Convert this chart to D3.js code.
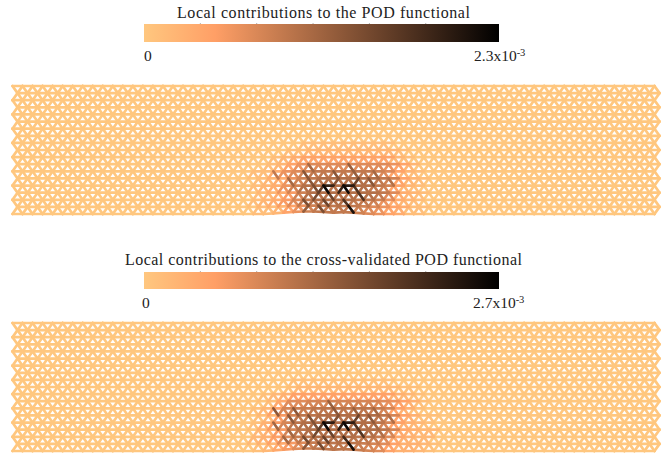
<!DOCTYPE html>
<html>
<head>
<meta charset="utf-8">
<script src="https://cdn.jsdelivr.net/npm/d3@7"></script>
<style>
body { margin: 0; background: #fff; }
text { font-family: "Liberation Serif", serif; fill: #222; }
</style>
</head>
<body>
<div id="chart"></div>
<script>
// copper colormap, reversed
let colorStops = [0, 0.2, 1];
let colorValues = ["#ffc77f", "#ff9f66", "#000000"];
let barTicks = [1, 2, 3, 4, 5];

let meshCols = 64;
let meshRows = 18;

let titles = ["Local contributions to the POD functional", "Local contributions to the cross-validated POD functional"];
let maxLabels = ["2.3", "2.7"];
let maxValues = [23, 27]; // units of 1e-4

// floor of the contribution around the defect, rows 8-17, columns 24-41
let baseCol0 = 24;
let baseRow0 = 8;
let podBase = [
  [0,0,0,0,0,1,1,1,1,1,1,1,1,1,0,0,0,0],
  [0,0,0,1,1,2,2,2,2,2,2,2,2,2,1,0,0,0],
  [0,0,1,2,3,4,4,4,4,4,4,4,4,4,2,1,0,0],
  [0,1,2,4,6,7,7,7,7,7,7,7,7,6,4,2,0,0],
  [1,1,3,6,7,8,9,9,9,9,9,9,8,7,4,2,1,0],
  [1,2,3,6,8,9,10,10,10,10,10,10,9,8,4,2,1,0],
  [1,2,3,6,8,10,10,10,10,10,10,10,9,8,4,2,1,0],
  [1,2,3,5,8,10,10,10,10,10,10,10,9,7,3,2,1,0],
  [1,2,3,5,7,9,10,10,10,10,9,9,8,6,3,2,1,0],
  [1,1,2,4,6,8,9,9,9,9,8,7,6,4,3,1,1,0]
];
let cvBase = [
  [0,0,0,0,1,1,1,1,1,1,1,1,1,1,0,0,0,0],
  [0,0,0,1,2,2,2,2,2,2,2,2,2,2,1,1,0,0],
  [0,1,2,3,5,5,5,5,5,5,5,5,5,5,3,2,1,0],
  [0,1,4,8,8,9,9,9,9,9,9,9,8,7,5,3,1,0],
  [1,2,5,9,10,10,11,11,11,11,11,11,10,9,5,3,1,0],
  [1,2,6,9,11,11,12,12,12,12,12,12,11,9,5,3,1,1],
  [1,3,6,9,11,12,12,12,12,12,12,12,11,9,5,3,2,1],
  [2,3,6,9,11,12,12,12,12,12,12,12,11,9,4,3,2,2],
  [2,3,5,8,10,11,12,12,12,12,11,11,10,8,4,3,2,2],
  [1,2,4,6,8,10,11,11,11,11,10,9,8,5,3,3,2,1]
];

// edges well above the floor: band, column, kind (b = "\", f = "/", h = flat), value
let podEdges = [
  [12,26,"b",9],[13,27,"b",11],[12,29,"b",13],[13,29,"b",13],[14,30,"b",14],[11,29,"b",11],
  [14,31,"h",19],[14,31,"b",22],[14,31,"f",16],[15,31,"b",15],
  [14,33,"h",20],[14,33,"b",22],[14,33,"f",19],[15,34,"b",17],
  [13,32,"f",13],[13,34,"f",15],[14,34,"b",17],[15,30,"f",14],
  [16,29,"b",14],[16,31,"b",15],[16,33,"b",17],[17,33,"b",21],[17,30,"b",14],[17,29,"f",12],
  [11,33,"b",12],[12,32,"b",13],[12,34,"b",12],[13,35,"b",13],[12,36,"b",11],[13,37,"b",10]
];
let cvEdges = [
  [12,26,"b",15],[13,27,"b",15],[12,28,"b",15],[13,29,"b",16],[14,30,"b",16],[14,26,"b",13],[15,27,"b",13],[16,27,"b",13],
  [14,31,"h",23],[14,31,"b",26],[14,31,"f",19],[15,31,"b",18],
  [14,33,"h",23],[14,33,"b",26],[14,33,"f",23],[15,34,"b",20],
  [13,32,"f",16],[13,34,"f",18],[14,34,"b",20],[15,30,"f",17],
  [16,29,"b",17],[16,31,"b",18],[16,33,"b",21],[17,33,"b",25],[17,30,"b",17],[17,29,"f",15],
  [11,31,"b",14],[12,32,"b",15],[12,34,"b",14],[13,35,"b",15],[12,36,"b",13],[13,37,"b",12],[14,36,"b",13],[15,36,"b",12]
];

// upward shift of the bottom boundary, in row units: column, shift
let bottomDent = [[26,0.1],[27,0.2],[28,0.3],[29,0.35],[30,0.35],[31,0.3],[32,0.2],[33,0.25],[34,0.2],[35,0.1]];

let panels = [
  {title: 0, titleX: 177, titleW: 293, titleY: 18, barTop: 24, barBottom: 42, labelY: 61, zeroX: 144, maxX: 474, top: 85, bottom: 215, base: podBase, edges: podEdges},
  {title: 1, titleX: 125, titleW: 397, titleY: 265, barTop: 272, barBottom: 289, labelY: 308, zeroX: 142, maxX: 473, top: 322, bottom: 452, base: cvBase, edges: cvEdges}
];

let svg = d3.select("#chart").append("svg")
  .attr("width", 665)
  .attr("height", 465);

let defs = svg.append("defs");
let grad = defs.append("linearGradient").attr("id", "copper");
grad.selectAll("stop").data(colorStops).enter().append("stop")
  .attr("offset", function(d){ return d; })
  .attr("stop-color", function(d, i){ return colorValues[i]; });

let barScale = d3.scaleLinear().domain([0, 6.3]).range([144, 499]);

panels.forEach(function(p, idx){
  let g = svg.append("g");
  let color = d3.scaleLinear()
    .domain(colorStops.map(function(s){ return s * maxValues[idx]; }))
    .range(colorValues)
    .clamp(true);

  g.append("text")
    .attr("x", p.titleX).attr("y", p.titleY)
    .attr("textLength", p.titleW).attr("lengthAdjust", "spacing")
    .style("font-size", "16px")
    .text(titles[p.title]);

  g.append("rect")
    .attr("x", barScale(0)).attr("y", p.barTop)
    .attr("width", barScale(6.3) - barScale(0)).attr("height", p.barBottom - p.barTop)
    .attr("fill", "url(#copper)");

  g.selectAll(".tick").data(barTicks).enter().append("line")
    .attr("x1", barScale).attr("x2", barScale)
    .attr("y1", p.barTop - 1).attr("y2", p.barTop)
    .attr("stroke", "#777").attr("stroke-width", 0.6);

  g.append("text").attr("x", p.zeroX).attr("y", p.labelY).style("font-size", "15.5px").text("0");
  let maxText = g.append("text").attr("x", p.maxX).attr("y", p.labelY).style("font-size", "15.5px");
  maxText.append("tspan").text(maxLabels[idx] + "x10");
  maxText.append("tspan").attr("dy", -5).style("font-size", "10.5px").text("-3");

  let x = d3.scaleLinear().domain([0, meshCols]).range([12.5, 654.5]);
  let y = d3.scaleLinear().domain([0, meshRows]).range([p.top + 1, p.bottom - 1]);

  function dent(r, c){
    if(r < meshRows - 1) return 0;
    let hit = bottomDent.find(function(d){ return d[0] === c; });
    return hit ? hit[1] * (r === meshRows ? 1 : 0.5) : 0;
  }
  function node(r, c){
    return [x(c + (r % 2 ? 0.5 : 0)), y(r - dent(r, c))];
  }
  function floorOf(r, c){
    let row = p.base[r - baseRow0];
    if(!row) return 0;
    return row[c - baseCol0] || 0;
  }

  let strong = {};
  p.edges.forEach(function(e){ strong[e[0] + "_" + e[1] + "_" + e[2]] = e[3]; });

  let links = [];
  for(let r = 0; r <= meshRows; r++){
    for(let c = 0; c <= meshCols; c++){
      let a = node(r, c);
      if(c < meshCols){
        links.push({a: a, b: node(r, c + 1), v: strong[r + "_" + c + "_h"] || floorOf(Math.min(r, meshRows - 1), c)});
      }
      if(r < meshRows){
        // odd rows sit half a step to the right of even rows
        let right = r % 2 ? c + 1 : c;
        let left = r % 2 ? c : c - 1;
        if(right <= meshCols) links.push({a: a, b: node(r + 1, right), v: strong[r + "_" + c + "_b"] || floorOf(r, c)});
        if(left >= 0) links.push({a: a, b: node(r + 1, left), v: strong[r + "_" + c + "_f"] || floorOf(r, c)});
      }
    }
  }
  links.sort(function(m, n){ return m.v - n.v; });

  g.append("g").selectAll("line").data(links).enter().append("line")
    .attr("x1", function(d){ return d.a[0]; })
    .attr("y1", function(d){ return d.a[1]; })
    .attr("x2", function(d){ return d.b[0]; })
    .attr("y2", function(d){ return d.b[1]; })
    .attr("stroke", function(d){ return color(d.v); })
    .attr("stroke-width", 2.7)
    .attr("stroke-linecap", "round");
});
</script>
</body>
</html>
